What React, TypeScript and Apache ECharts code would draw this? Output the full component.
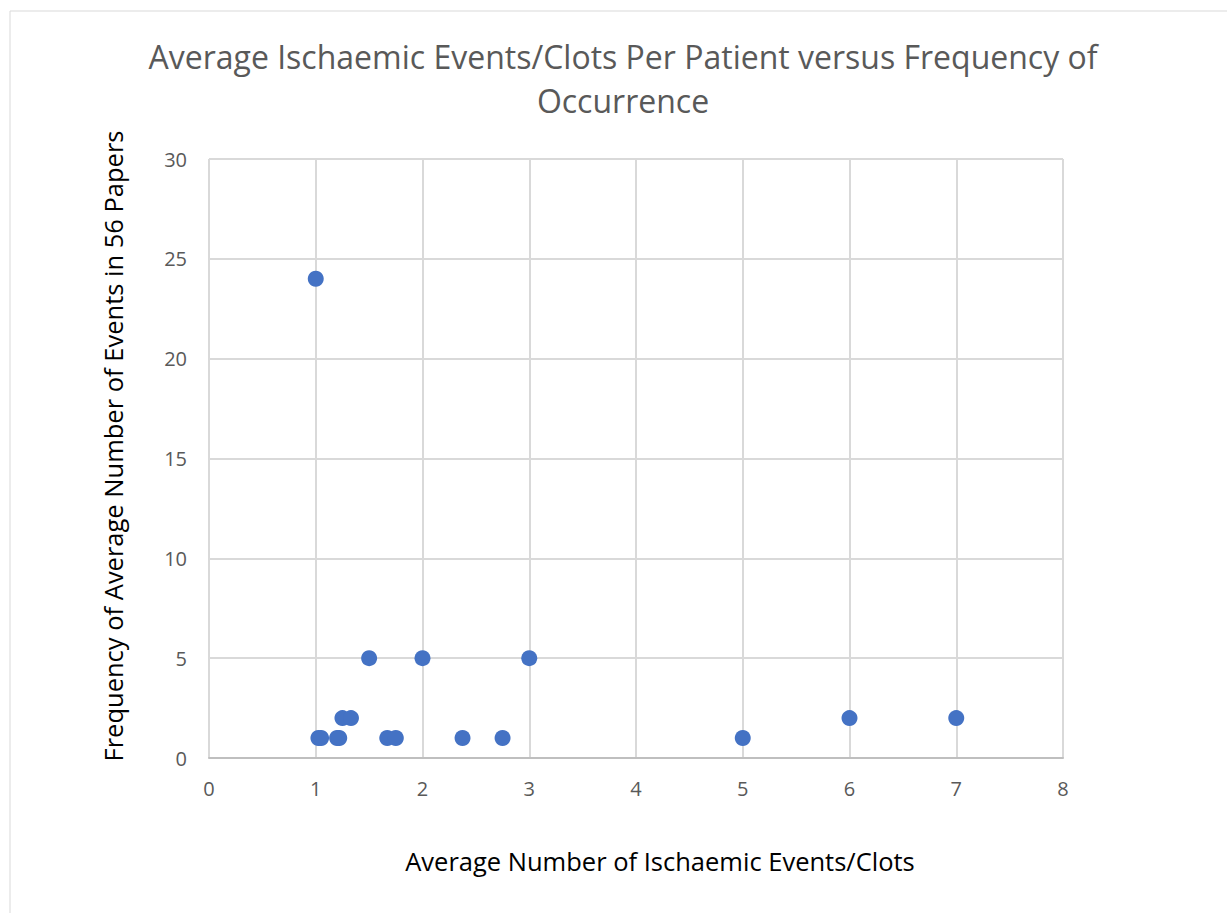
import React, { useEffect, useRef } from "react";
import * as echarts from "echarts";

const titleText = "Average Ischaemic Events/Clots Per Patient versus Frequency of\nOccurrence";
const xAxisTitle = "Average Number of Ischaemic Events/Clots";
const yAxisTitle = "Frequency of Average Number of Events in 56 Papers";

const avgEvents = [1.0, 1.025, 1.05, 1.2, 1.22, 1.25, 1.33, 1.5, 1.67, 1.75, 2.0, 2.375, 2.75, 3.0, 5.0, 6.0, 7.0];
const frequency = [24, 1, 1, 1, 1, 2, 2, 5, 1, 1, 5, 1, 1, 5, 1, 2, 2];

export default function App() {
  const ref = useRef<HTMLDivElement>(null);
  useEffect(() => {
    if (!ref.current) return;
    const chart = echarts.init(ref.current, null, { renderer: "svg" });
    const font = "'Open Sans', 'Noto Sans', sans-serif";
    chart.setOption({
      animation: false,
      backgroundColor: "#ffffff",
      textStyle: { fontFamily: font },
      graphic: [
        {
          type: "rect",
          shape: { x: 10, y: 11, width: 1400, height: 1000 },
          style: { fill: "none", stroke: "#d9d9d9", lineWidth: 1 },
          silent: true,
        },
        {
          type: "text",
          x: 623,
          y: 78,
          style: {
            text: titleText,
            fontSize: 32,
            fontFamily: font,
            fill: "#595959",
            align: "center",
            verticalAlign: "middle",
            lineHeight: 44,
          },
        },
        {
          type: "text",
          x: 660,
          y: 861,
          style: {
            text: xAxisTitle,
            fontSize: 25.5,
            fontFamily: font,
            fill: "#000000",
            align: "center",
            verticalAlign: "middle",
          },
        },
        {
          type: "text",
          x: 113,
          y: 446,
          rotation: Math.PI / 2,
          style: {
            text: yAxisTitle,
            fontSize: 25.5,
            fontFamily: font,
            fill: "#000000",
            align: "center",
            verticalAlign: "middle",
          },
        },
      ],
      grid: { left: 209, right: 164, top: 159, bottom: 155, containLabel: false },
      xAxis: {
        type: "value",
        min: 0,
        max: 8,
        interval: 1,
        axisLine: { show: true, lineStyle: { color: "#bfbfbf", width: 2 } },
        axisTick: { show: false },
        axisLabel: { color: "#595959", fontSize: 20, margin: 20, fontFamily: font },
        splitLine: { show: true, lineStyle: { color: "#d9d9d9", width: 2 } },
      },
      yAxis: {
        type: "value",
        min: 0,
        max: 30,
        interval: 5,
        axisLine: { show: false },
        axisTick: { show: false },
        axisLabel: { color: "#595959", fontSize: 20, margin: 22, fontFamily: font },
        splitLine: { show: true, lineStyle: { color: "#d9d9d9", width: 2 } },
      },
      series: [
        {
          type: "scatter",
          data: avgEvents.map((x, i) => [x, frequency[i]]),
          symbol: "circle",
          symbolSize: 16,
          itemStyle: { color: "#4472c4", opacity: 1 },
        },
      ],
    });
    return () => chart.dispose();
  }, []);
  return (
    <div
      ref={ref}
      style={{ position: "fixed", left: 0, top: 0, width: 1227, height: 913 }}
    />
  );
}
